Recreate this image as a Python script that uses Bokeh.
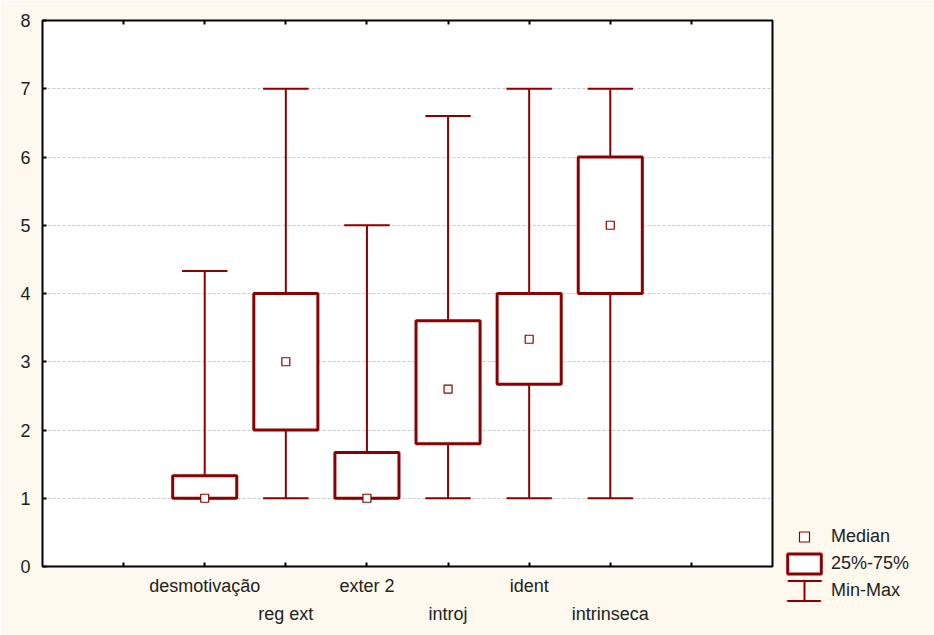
from bokeh.plotting import figure
from bokeh.models import (ColumnDataSource, LinearAxis, FixedTicker, Range1d,
                          Legend, LegendItem)
from bokeh.embed import file_html
from bokeh.resources import INLINE

# ---- data ----
categories = ["desmotivação", "reg ext", "exter 2", "introj", "ident", "intrinseca"]
mins = [1, 1, 1, 1, 1, 1]
q1 = [1, 2, 1, 1.8, 2.67, 4]
medians = [1, 3, 1, 2.6, 3.33, 5]
q3 = [1.33, 4, 1.67, 3.6, 4, 6]
maxs = [4.33, 7, 5, 6.6, 7, 7]
y_ticks = [0, 1, 2, 3, 4, 5, 6, 7, 8]
legend_labels = ["Median", "25%-75%", "Min-Max"]

pos = [i + 1 for i in range(len(categories))]
BOX_W = 0.79
CAP_W = 0.56
RED = "#8B0000"
BG = "#FDF9EE"
FONT = "Liberation Sans"
FS = "18px"
TXT = "#222222"

src = ColumnDataSource(dict(
    x=pos, lo=mins, q1=q1, med=medians, q3=q3, hi=maxs,
    cl=[p - CAP_W / 2 for p in pos], cr=[p + CAP_W / 2 for p in pos],
))

p = figure(frame_width=730, frame_height=546, output_backend="svg",
           toolbar_location=None,
           x_range=Range1d(-1, 8), y_range=Range1d(0, 8),
           min_border_left=42, min_border_right=162, min_border_top=20,
           min_border_bottom=69)
p.background_fill_color = "white"
p.border_fill_color = BG
p.outline_line_color = "black"
p.outline_line_width = 2
# off-screen range used only for legend key glyphs
p.extra_y_ranges = {"off": Range1d(1000, 1001)}

# grid
p.xgrid.visible = False
p.ygrid.ticker = FixedTicker(ticks=y_ticks[1:-1])
p.ygrid.grid_line_color = "#C8C8C8"
p.ygrid.grid_line_dash = "3 2"
p.ygrid.grid_line_width = 1

# left axis
ya = p.yaxis[0]
ya.ticker = FixedTicker(ticks=y_ticks)
ya.axis_line_color = None
ya.major_tick_in = 4
ya.major_tick_out = 0
ya.major_tick_line_width = 2
ya.minor_tick_line_color = None
ya.major_label_text_font = FONT
ya.major_label_text_font_size = FS
ya.major_label_text_color = TXT
ya.major_label_standoff = 12

# bottom axis 1 (odd categories + all ticks)
xt = list(range(0, 8))
xa = p.xaxis[0]
xa.ticker = FixedTicker(ticks=xt)
xa.axis_line_color = None
xa.major_tick_in = 4
xa.major_tick_out = 0
xa.major_tick_line_width = 2
xa.minor_tick_line_color = None
ov1 = {t: "" for t in xt}
for i, c in enumerate(categories):
    if i % 2 == 0:
        ov1[pos[i]] = c
xa.major_label_overrides = ov1
xa.major_label_text_font = FONT
xa.major_label_text_font_size = FS
xa.major_label_text_color = TXT
xa.major_label_standoff = 9

# bottom axis 2 (even categories)
even_pos = [pos[i] for i in range(len(categories)) if i % 2 == 1]
ov2 = {pos[i]: categories[i] for i in range(len(categories)) if i % 2 == 1}
xa2 = LinearAxis(ticker=FixedTicker(ticks=even_pos), axis_line_color=None,
                 major_tick_line_color=None, minor_tick_line_color=None,
                 major_tick_in=0, major_tick_out=0,
                 major_label_overrides=ov2, major_label_text_font=FONT,
                 major_label_text_font_size=FS, major_label_text_color=TXT,
                 major_label_standoff=5)
p.add_layout(xa2, "below")

# top axis (ticks only)
ta = LinearAxis(ticker=FixedTicker(ticks=xt), axis_line_color=None,
                major_tick_in=4, major_tick_out=0, major_tick_line_width=2,
                minor_tick_line_color=None,
                major_label_overrides={t: "" for t in xt},
                major_label_text_font_size="1px", major_label_standoff=0)
p.add_layout(ta, "above")

# whiskers
p.segment(x0="x", y0="lo", x1="x", y1="hi", source=src, line_color=RED, line_width=2)
p.segment(x0="cl", y0="hi", x1="cr", y1="hi", source=src, line_color=RED, line_width=2)
p.segment(x0="cl", y0="lo", x1="cr", y1="lo", source=src, line_color=RED, line_width=2)
# boxes
box = p.vbar(x="x", bottom="q1", top="q3", width=BOX_W, source=src,
             fill_color="white", line_color=RED, line_width=3)
# medians
med = p.scatter(x="x", y="med", source=src, marker="square", size=8,
                fill_color="white", line_color=RED, line_width=1.2)

# legend key glyphs for Min-Max (drawn in an off-screen range, only the key shows)
lg_caps = p.rect(x="x", y="med", width=BOX_W, height=1, source=src,
                 fill_color=None, line_color=RED, line_width=2,
                 line_dash="34 20", y_range_name="off")
lg_stem = p.ellipse(x="x", y="med", width=0.0001, height=1, source=src,
                    fill_color=None, line_color=RED, line_width=2,
                    y_range_name="off")

legend = Legend(items=[
    LegendItem(label=legend_labels[0], renderers=[med]),
    LegendItem(label=legend_labels[1], renderers=[box]),
    LegendItem(label=legend_labels[2], renderers=[lg_caps, lg_stem]),
], location=(11, -37), orientation="vertical",
    background_fill_alpha=0, border_line_color=None,
    padding=0, margin=0, spacing=2, glyph_width=42, glyph_height=25,
    label_standoff=6, label_text_font=FONT, label_text_font_size=FS,
    label_text_color=TXT, label_height=25)
p.add_layout(legend, "right")

open("out.html", "w").write(file_html(p, INLINE))
